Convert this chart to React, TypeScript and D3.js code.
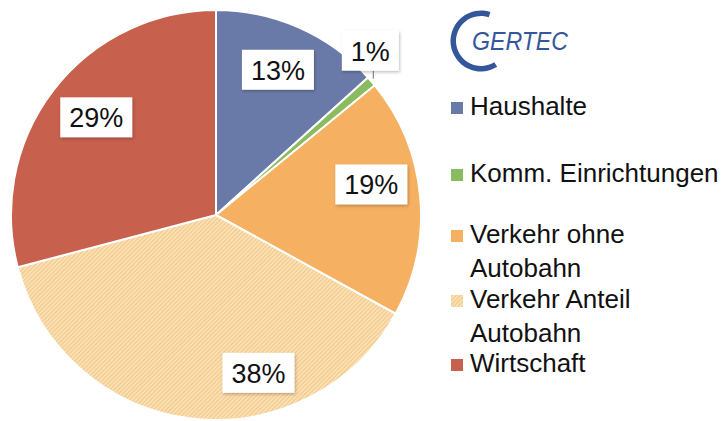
import React from "react";
import * as d3 from "d3";

const categories = ["Haushalte", "Komm. Einrichtungen", "Verkehr ohne Autobahn", "Verkehr Anteil Autobahn", "Wirtschaft"];
const values = [13.3, 0.8, 18.9, 37.9, 29.1];
const labels = ["13%", "1%", "19%", "38%", "29%"];
const legendLines = [["Haushalte"], ["Komm. Einrichtungen"], ["Verkehr ohne", "Autobahn"], ["Verkehr Anteil", "Autobahn"], ["Wirtschaft"]];

const colors = ["#6a7aa8", "#8bbb61", "#f5b062", "url(#hatch)", "#c7604d"];
const swatchColors = ["#6a7aa8", "#8bbb61", "#f5b062", "url(#hatchS)", "#c7604d"];
const labelOffsets: [number, number][] = [[-3, 1], [33, -60], [-4, -16], [62, -1], [7, 0]];
const legendY = [115, 182, 243, 308, 372];

export default function App() {
  const W = 728, H = 421;
  const cx = 216, cy = 215, R = 205;
  const pie = d3.pie<number>().sort(null).value((d) => d)(values);
  const arc = d3.arc<d3.PieArcDatum<number>>().innerRadius(0).outerRadius(R);
  const labelArc = d3.arc<d3.PieArcDatum<number>>().innerRadius(160).outerRadius(160);
  const font = "'Liberation Sans', Arial, sans-serif";
  const logoArc = d3.arc()({ innerRadius: 25, outerRadius: 30.5, startAngle: (148 * Math.PI) / 180, endAngle: (378 * Math.PI) / 180 } as any) || "";
  return (
    <svg width={W} height={H} style={{ position: "absolute", left: 0, top: 0, background: "#fff" }}>
      <defs>
        <pattern id="hatch" patternUnits="userSpaceOnUse" width="3" height="3" patternTransform="rotate(45)">
          <rect width="3" height="3" fill="#fbe0b2" />
          <line x1="0" y1="0" x2="0" y2="3" stroke="#ecb878" strokeWidth="1.3" />
        </pattern>
        <pattern id="hatchS" patternUnits="userSpaceOnUse" width="3" height="3" patternTransform="rotate(45)">
          <rect width="3" height="3" fill="#fbe0b2" />
          <line x1="0" y1="0" x2="0" y2="3" stroke="#ecb878" strokeWidth="1.3" />
        </pattern>
        <filter id="shadow" x="-20%" y="-20%" width="140%" height="150%">
          <feDropShadow dx="1" dy="1.5" stdDeviation="1.5" floodColor="#000" floodOpacity="0.25" />
        </filter>
      </defs>
      <g transform={`translate(${cx},${cy})`}>
        {pie.map((p, i) => (
          <path key={i} d={arc(p) || ""} fill={colors[i]} stroke="#fff" strokeWidth={2} />
        ))}
        {pie.map((p, i) => {
          const c = labelArc.centroid(p);
          const x = c[0] + labelOffsets[i][0];
          const y = c[1] + labelOffsets[i][1];
          const bw = labels[i].length * 15 + 27;
          const bh = 40;
          const edge = d3.arc<d3.PieArcDatum<number>>().innerRadius(R - 2).outerRadius(R - 2).centroid(p);
          return (
            <g key={i}>
              {i === 1 && (
                <line x1={x + 3} y1={y + bh / 2} x2={x + 3} y2={edge[1] - 4} stroke="#8c8c8c" strokeWidth={1.2} />
              )}
              <rect x={x - bw / 2} y={y - bh / 2} width={bw} height={bh} fill="#fff" filter="url(#shadow)" />
              <text x={x} y={y + 10} textAnchor="middle" fontFamily={font} fontSize={27} fill="#111">
                {labels[i]}
              </text>
            </g>
          );
        })}
      </g>
      <g>
        <path d={logoArc} transform="translate(481,41)" fill="#34579b" />
        <text x={472} y={50} fontFamily={font} fontStyle="italic" fontSize={25} fill="#34579b" textLength={96} lengthAdjust="spacingAndGlyphs">GERTEC</text>
      </g>
      <g>
        {categories.map((c, i) => (
          <g key={c}>
            <rect x={451} y={legendY[i] - 13} width={12} height={12} fill={swatchColors[i]} />
            {legendLines[i].map((ln, j) => (
              <text key={j} x={470} y={legendY[i] + j * 34} fontFamily={font} fontSize={26} fill="#111">
                {ln}
              </text>
            ))}
          </g>
        ))}
      </g>
    </svg>
  );
}
